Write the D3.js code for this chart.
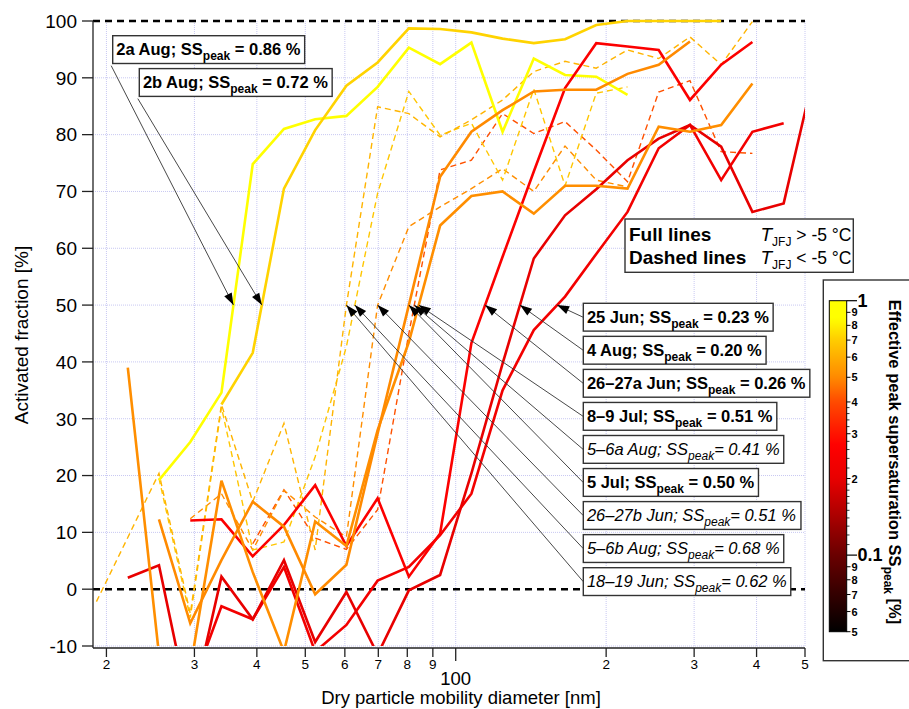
<!DOCTYPE html>
<html><head><meta charset="utf-8">
<script src="https://cdn.jsdelivr.net/npm/d3@7"></script>
<style>
body{margin:0;background:#fff}
svg{display:block}
text{font-family:"Liberation Sans",Arial,sans-serif;fill:#000}
</style>
</head><body>
<svg id="chart" width="909" height="709"></svg>
<script>
// Size bins (dry mobility diameter, nm)
const diameters = [19.10,22.07,25.48,29.43,33.98,39.25,45.32,52.33,60.43,69.78,80.58,93.06,107.5,124.1,143.3,165.5,191.1,220.7,254.8,294.3,339.8,392.4,453.2,523.3];

// Activated fraction [%] per bin for each event (null = no data)
const af2aAug   = [null,null,19.2,25.9,34.6,74.8,81.0,82.7,83.3,88.4,95.3,92.4,96.2,80.5,93.4,90.5,90.2,87.0,null,null,null,null,null,null];
const af2bAug   = [null,null,null,null,32.5,41.6,70.5,80.8,88.6,92.7,98.7,98.6,98.0,96.9,96.1,96.8,99.3,100,100,100,100,null,null,null];
const af25Jun   = [null,null,null,-18,-3.0,-5.3,3.9,-11,-6.3,1.5,3.9,9.5,16.8,35.0,45.6,51.5,59.0,66.4,77.6,81.7,72.0,80.5,82.0,null];
const af4Aug    = [null,2.0,4.2,-22,2.2,-5.3,5.1,-9.3,-0.5,-11.5,-0.2,2.5,20.4,39.7,58.2,65.8,70.4,75.5,79.3,81.7,77.9,66.4,67.9,91.4];
const af2627aJun= [null,null,null,12.1,12.3,5.8,11.3,18.3,7.6,16.0,2.2,9.8,43.3,58.5,73.5,88.2,96.1,95.5,94.9,86.1,92.3,96.3,null,null];
const af89Jul   = [null,39.0,-11.5,-14,19.1,3.0,-11,11.9,7.6,28.0,43.5,64.0,69.2,70.0,66.1,71.0,71.0,70.5,81.4,80.5,81.7,89.0,null,null];
const af56aAug  = [null,null,null,null,null,8.0,17.5,9.0,7.0,14.0,45.0,73.8,75.5,83.7,80.2,82.3,77.3,71.7,87.5,89.5,77.0,76.7,null,null];
const af5Jul    = [null,null,12.3,-6.0,5.1,15.4,11.0,-0.9,4.3,27.4,50.0,72.6,80.5,84.3,87.6,87.9,87.9,90.7,92.3,96.4,null,null,null,null];
const af2627bJun= [null,null,null,12.4,16.8,6.9,17.4,12.7,9.2,50.0,63.8,67.3,70.5,74.0,70.0,78.0,72.0,70.8,null,null,null,null,null,null];
const af56bAug  = [null,null,19.5,-5.0,32.0,6.9,8.3,23.3,42.7,69.7,87.6,79.9,82.0,72.0,88.0,71.0,87.3,88.4,null,null,null,null,null,null];
const af1819Jun = [-2.2,9.1,20.4,-4.3,32.5,15.4,29.2,6.9,50.0,84.9,83.7,79.6,82.6,86.1,91.1,92.9,91.7,94.9,93.4,97.2,92.3,99.9,null,null];

const eventNames = ["2a Aug","2b Aug","25 Jun","4 Aug","26–27a Jun","8–9 Jul","5–6a Aug","5 Jul","26–27b Jun","5–6b Aug","18–19 Jun"];
const ssPeak     = [0.86,0.72,0.23,0.20,0.26,0.51,0.41,0.50,0.51,0.68,0.62];
const warmCase   = [true,true,true,true,true,true,false,true,false,false,false]; // T_JFJ > -5 °C
const afValues   = [af2aAug,af2bAug,af25Jun,af4Aug,af2627aJun,af89Jul,af56aAug,af5Jul,af2627bJun,af56bAug,af1819Jun];

const yTickValues = [-10,0,10,20,30,40,50,60,70,80,90,100];
const xTickValues = [20,30,40,50,60,70,80,90,100,200,300,400,500];
const xTickLabels = ["2","3","4","5","6","7","8","9","100","2","3","4","5"];
const cbarMajor   = [1,0.1];
const cbarMajorLabels = ["1","0.1"];
const cbarMinor   = [0.9,0.8,0.7,0.6,0.5,0.4,0.3,0.2,0.09,0.08,0.07,0.06,0.05];
const cbarMinorLabels = ["9","8","7","6","5","4","3","2","9","8","7","6","5"];
const cbarSmall   = [0.38,0.36,0.34,0.32,0.28,0.26,0.24,0.22,0.19,0.18,0.17,0.16,0.15,0.14,0.13,0.12,0.11];

const svg = d3.select("#chart");
svg.append("rect").attr("width",909).attr("height",709).attr("fill","#fff");

const x = d3.scaleLog().domain([18.8, 500]).range([93, 805]);
const y = d3.scaleLinear().domain([-10, 100]).range([646, 21]);
const color = d3.scaleLog()
  .domain([0.05,0.1,0.2,0.27,0.4,0.5,0.7,0.85,1])
  .range(["#000000","#6a0000","#e80000","#ff0000","#ff4a00","#ff8a00","#ffcc00","#ffff00","#ffff00"])
  .clamp(true);

// grid
const grid = svg.append("g").attr("stroke","#c8c8f2").attr("stroke-width",1).attr("stroke-dasharray","1,1");
grid.selectAll(".gx").data(xTickValues).join("line")
  .attr("x1",d=>x(d)).attr("x2",d=>x(d)).attr("y1",y(100)).attr("y2",y(-10));
grid.selectAll(".gy").data(yTickValues.filter(v=>v!==0 && v!==100)).join("line")
  .attr("x1",93).attr("x2",805).attr("y1",d=>y(d)).attr("y2",d=>y(d));

// reference lines at 0 and 100 %
svg.append("g").selectAll("line").data([0,100]).join("line")
  .attr("x1",93).attr("x2",805).attr("y1",d=>y(d)).attr("y2",d=>y(d))
  .attr("stroke","#000").attr("stroke-width",2.6).attr("stroke-dasharray","7,5");

// data lines
svg.append("clipPath").attr("id","plotclip").append("rect")
  .attr("x",93).attr("y",10).attr("width",712).attr("height",y(-10)-10);
const line = d3.line().defined(d=>d.v!==null).x(d=>x(d.d)).y(d=>y(d.v));
const events = eventNames.map((name,k)=>({
  name, ss: ssPeak[k], warm: warmCase[k],
  pts: diameters.map((d,i)=>({d, v: afValues[k][i]}))
}));
const lg = svg.append("g").attr("clip-path","url(#plotclip)").attr("fill","none");
// dashed first, full lines on top
[...events.filter(e=>!e.warm), ...events.filter(e=>e.warm)].forEach(e=>{
  lg.append("path").attr("d",line(e.pts))
    .attr("stroke",color(e.ss))
    .attr("stroke-width",e.warm?2.6:1.4)
    .attr("stroke-dasharray",e.warm?null:"6,4")
    .attr("stroke-linejoin","miter");
});

// axes
const ax = svg.append("g").attr("stroke","#222").attr("stroke-width",1.3);
ax.append("line").attr("x1",93).attr("x2",93).attr("y1",y(100)).attr("y2",648);
ax.append("line").attr("x1",93).attr("x2",805).attr("y1",648).attr("y2",648);
ax.selectAll(".ty").data(yTickValues).join("line")
  .attr("x1",82).attr("x2",93).attr("y1",d=>y(d)).attr("y2",d=>y(d));
ax.selectAll(".tx").data(xTickValues).join("line")
  .attr("x1",d=>x(d)).attr("x2",d=>x(d)).attr("y1",648).attr("y2",d=>d===100?661:657);

svg.append("g").selectAll("text").data(yTickValues).join("text")
  .attr("x",77).attr("y",d=>y(d)+6.8).attr("text-anchor","end")
  .attr("font-size",19).text(d=>d);
svg.append("g").selectAll("text").data(xTickValues).join("text")
  .attr("x",d=>x(d)).attr("y",(d)=>d===100?684.5:669).attr("text-anchor","middle")
  .attr("font-size",(d)=>d===100?18.5:13.5).text((d,i)=>xTickLabels[i]);

svg.append("text").attr("x",461).attr("y",704).attr("text-anchor","middle")
  .attr("font-size",18.5).text("Dry particle mobility diameter [nm]");
svg.append("text").attr("transform","translate(28,335) rotate(-90)").attr("text-anchor","middle")
  .attr("font-size",19).text("Activated fraction [%]");

// x position where a curve first rises through 50 %
function cross50(e){
  const p = e.pts;
  for(let i=0;i<p.length-1;i++){
    const a=p[i], b=p[i+1];
    if(a.v!==null && b.v!==null && a.v<50 && b.v>=50){
      const t=(50-a.v)/(b.v-a.v);
      return Math.exp(Math.log(a.d)+t*(Math.log(b.d)-Math.log(a.d)));
    }
  }
  return null;
}

function arrow(g,x1,y1,x2,y2){
  g.append("line").attr("x1",x1).attr("y1",y1).attr("x2",x2).attr("y2",y2)
    .attr("stroke","#333").attr("stroke-width",0.9);
  const ang=Math.atan2(y2-y1,x2-x1), L=12, W=4.2;
  const bx=x2-L*Math.cos(ang), by=y2-L*Math.sin(ang);
  const px=-Math.sin(ang)*W, py=Math.cos(ang)*W;
  g.append("path").attr("d",`M${x2},${y2}L${bx+px},${by+py}L${bx-px},${by-py}Z`).attr("fill","#000");
}

function label(g,e,left,top){
  const h=27.8;
  const box=g.append("rect").attr("x",left).attr("y",top).attr("height",h)
    .attr("fill","#fff").attr("stroke","#333").attr("stroke-width",1.4);
  const t=g.append("text").attr("x",left+3.6).attr("y",top+19.2).attr("font-size",16.5)
    .attr("font-weight",e.warm?"bold":"normal").attr("font-style",e.warm?"normal":"italic");
  t.append("tspan").text(e.name+"; SS");
  t.append("tspan").attr("font-size",12).attr("dy",5).text("peak");
  t.append("tspan").attr("dy",-5).text((e.warm?" = ":"= ")+e.ss.toFixed(2)+" %");
  const w=t.node().getBBox().width;
  box.attr("width",w+7.6);
}

const ann=svg.append("g");
// left-hand labels (yellow events)
const leftLabels=[{k:0,left:112.7,top:35.7},{k:1,left:139.3,top:68.6}];
leftLabels.forEach(o=>{
  const e=events[o.k];
  arrow(ann,o.left-1.5,o.top+30,x(cross50(e)),y(50));
});
leftLabels.forEach(o=>label(ann,events[o.k],o.left,o.top));

// right-hand labels
const rightOrder=[2,3,4,5,6,7,8,9,10];
rightOrder.forEach((k,j)=>{
  const top=303.3+j*33.05;
  arrow(ann,583.3,top+14,x(cross50(events[k])),y(50));
});
rightOrder.forEach((k,j)=>label(ann,events[k],583.3,303.3+j*33.05));

// line-style legend
const lgd=svg.append("g");
lgd.append("rect").attr("x",625).attr("y",219).attr("width",228.3).attr("height",53.3)
  .attr("fill","#fff").attr("stroke","#333").attr("stroke-width",1.4);
[["Full lines",">",240.5],["Dashed lines","<",264]].forEach(r=>{
  lgd.append("text").attr("x",629).attr("y",r[2]).attr("font-size",19).attr("font-weight","bold").text(r[0]);
  const t=lgd.append("text").attr("x",760.5).attr("y",r[2]).attr("font-size",17.5);
  t.append("tspan").attr("font-style","italic").attr("font-size",19).text("T");
  t.append("tspan").attr("font-size",12).attr("dy",5).text("JFJ");
  t.append("tspan").attr("dy",-5).text(" "+r[1]+" -5 °C");
});

// colour bar
const cb=svg.append("g");
cb.append("rect").attr("x",823.3).attr("y",280).attr("width",120).attr("height",380.7)
  .attr("fill","#fff").attr("stroke","#333").attr("stroke-width",1.4);
const cy=d3.scaleLog().domain([0.05,1]).range([631.7,300.7]);
const grad=svg.append("defs").append("linearGradient").attr("id","ssgrad")
  .attr("x1",0).attr("y1",1).attr("x2",0).attr("y2",0);
d3.range(0,61).forEach(i=>{
  const v=0.05*Math.pow(20,i/60);
  grad.append("stop").attr("offset",i/60).attr("stop-color",color(v));
});
cb.append("rect").attr("x",829.3).attr("y",300.7).attr("width",17.4).attr("height",331)
  .attr("fill","url(#ssgrad)").attr("stroke","#000").attr("stroke-width",1);
cb.selectAll(".mj").data(cbarMajor).join("line").attr("x1",846.7).attr("x2",857)
  .attr("y1",d=>cy(d)).attr("y2",d=>cy(d)).attr("stroke","#000").attr("stroke-width",1.2);
cb.selectAll(".mn").data(cbarMinor).join("line").attr("x1",846.7).attr("x2",850.5)
  .attr("y1",d=>cy(d)).attr("y2",d=>cy(d)).attr("stroke","#000").attr("stroke-width",1);
cb.selectAll(".sm").data(cbarSmall).join("line").attr("x1",846.7).attr("x2",849.5)
  .attr("y1",d=>cy(d)).attr("y2",d=>cy(d)).attr("stroke","#000").attr("stroke-width",0.8);
cb.selectAll(".mjl").data(cbarMajor).join("text").attr("x",857.5).attr("y",d=>cy(d)+6)
  .attr("font-size",18).attr("font-weight","bold").text((d,i)=>cbarMajorLabels[i]);
cb.selectAll(".mnl").data(cbarMinor).join("text").attr("x",851.5).attr("y",d=>cy(d)+4)
  .attr("font-size",11).attr("font-weight","bold").text((d,i)=>cbarMinorLabels[i]);
const ct=cb.append("text").attr("transform","translate(888.5,462) rotate(90)")
  .attr("text-anchor","middle").attr("font-size",16.5).attr("font-weight","bold");
ct.append("tspan").text("Effective peak supersaturation SS");
ct.append("tspan").attr("font-size",12).attr("dy",5).text("peak");
ct.append("tspan").attr("dy",-5).text(" [%]");
</script>
</body></html>
